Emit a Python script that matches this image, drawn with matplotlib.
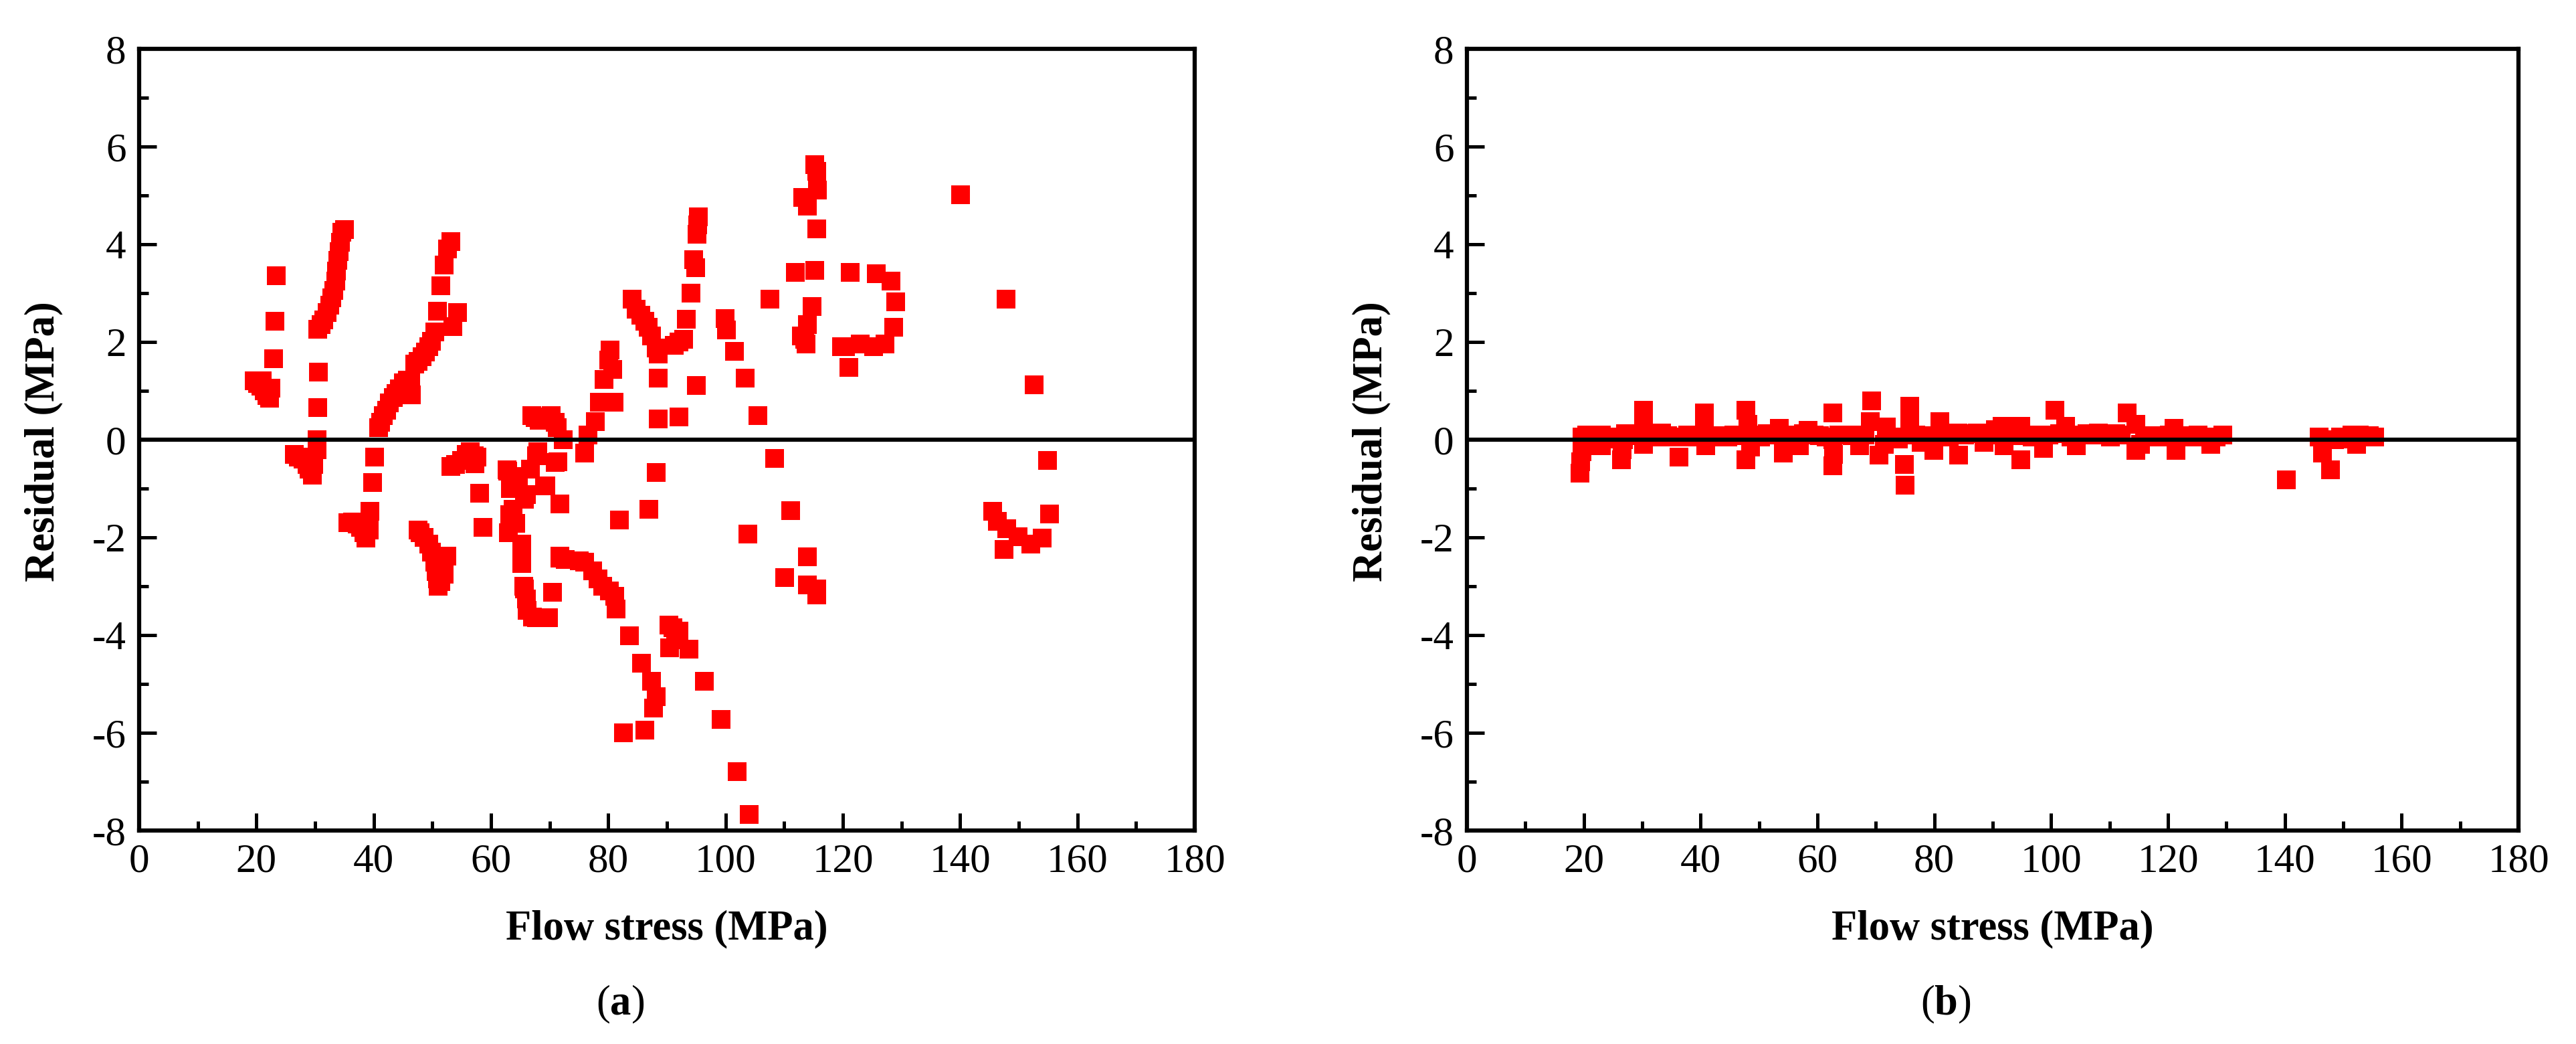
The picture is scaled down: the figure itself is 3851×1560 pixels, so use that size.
import matplotlib
matplotlib.use("Agg")
import matplotlib.pyplot as plt
from matplotlib.ticker import MultipleLocator

plt.rcParams['font.family'] = ['Liberation Serif', 'DejaVu Serif']
plt.rcParams['axes.unicode_minus'] = False
plt.rcParams['mathtext.fontset'] = 'custom'
plt.rcParams['mathtext.rm'] = 'Liberation Serif'
plt.rcParams['mathtext.bf'] = 'Liberation Serif:bold'

# ---------------- data ----------------
xa = [19.6, 20.2, 20.8, 21.3, 21.8, 22.3, 22.5, 21.0,
      23.4, 23.2, 22.9,
      26.5, 27.2, 28.0, 28.6, 29.0, 29.5, 29.8, 30.3,
      30.3, 30.4, 30.6,
      30.5, 31.0, 31.5, 32.0, 32.5, 32.9, 33.2, 33.5, 33.7, 33.9, 34.1, 34.3, 34.6, 35.0,
      40.1, 39.8, 39.3,
      35.6, 36.4, 37.2, 37.7, 38.3, 38.7, 39.2,
      40.8, 41.2, 41.6, 42.2, 42.7, 43.3, 43.8, 44.4, 45.0, 45.7, 46.3, 46.4,
      47.0, 47.6, 48.2, 48.8, 49.4, 49.9,
      50.4, 50.9, 51.4, 52.0, 52.6, 53.2, 53.5, 54.3,
      53.2, 54.0, 55.0, 55.8, 56.5, 57.3, 57.6, 57.2,
      58.1, 58.6,
      47.6, 47.9, 48.6, 49.4, 49.9, 50.4, 50.7, 50.9, 51.0, 51.5, 52.0, 52.5,
      67.0, 67.5, 68.2, 70.3, 70.9, 71.3, 72.3, 71.4, 68.5, 70.1,
      68.0, 71.0, 69.3, 66.7, 62.7, 63.5, 64.7, 65.7, 63.2, 64.2, 63.0, 65.2, 65.3,
      65.2, 65.6, 65.7, 66.1, 66.2, 67.1, 67.8, 68.8, 69.8, 70.5, 71.8, 71.8, 69.1,
      62.8, 63.3, 64.5, 66.1, 63.8, 63.8, 67.8,
      71.7, 72.7, 75.0, 76.0, 77.3, 78.2, 79.0, 80.2, 81.1, 81.3, 83.6, 85.7, 87.4,
      88.2, 87.7, 82.6, 86.2,
      90.3, 91.0, 92.0, 90.5, 91.5, 93.8, 96.4, 99.2, 102.0, 104.0,
      111.1, 103.8, 113.9, 110.1, 113.9, 115.6, 115.5,
      81.9, 86.9, 88.2, 108.4,
      76.0, 76.5, 77.8, 78.5, 79.3, 80.8, 80.1, 80.3, 81.0,
      84.1, 84.8, 85.5, 86.2, 86.8, 87.4, 88.2, 88.5, 88.5, 88.5, 92.0,
      91.3, 92.0, 92.8, 93.3, 94.1, 94.6, 94.9, 95.1, 95.4, 95.3, 95.0,
      99.95, 100.2, 101.5, 103.3, 105.5, 107.6,
      111.9, 115.2, 114.7, 113.96, 112.9, 113.7, 113.5,
      115.2, 115.7, 113.2, 114.0, 115.5, 115.6,
      121.3, 125.7, 128.2, 129.0, 128.7, 127.2, 125.2, 123.0, 120.4, 119.8, 121.0,
      140.1, 147.8, 152.6, 154.9, 155.2,
      145.6, 146.4, 147.9, 149.9, 152.0, 154.0, 147.5]
ya = [1.2, 1.15, 1.1, 1.0, 0.9, 0.85, 1.05, 1.2,
      3.36, 2.42, 1.66,
      -0.3, -0.35, -0.4, -0.5, -0.6, -0.73, -0.5, -0.2,
      0.0, 0.66, 1.38,
      2.26, 2.35, 2.45, 2.6, 2.75, 2.9, 3.06, 3.25, 3.45, 3.67, 3.85, 4.04, 4.25, 4.3,
      -0.35, -0.87, -1.47,
      -1.7, -1.68, -1.72, -1.8, -1.9, -2.02, -1.85,
      0.25, 0.35, 0.49, 0.6, 0.75, 0.86, 0.95, 1.04, 1.16, 1.22, 1.2, 0.92,
      1.55, 1.6, 1.7, 1.8, 1.9, 2.02,
      2.2, 2.63, 3.15, 3.58, 3.9, 4.05, 2.32, 2.6,
      -0.55, -0.5, -0.43, -0.3, -0.24, -0.49, -0.35, -0.33,
      -1.1, -1.8,
      -1.85, -1.9, -2.0, -2.14, -2.3, -2.5, -2.7, -2.85, -3.0, -2.9, -2.75, -2.39,
      0.49, 0.45, 0.4, 0.49, 0.35, 0.24, 0.0, -0.45, 0.45, 0.46,
      -0.24, -0.46, -0.95, -0.6, -0.61, -0.75, -0.98, -1.22, -1.53, -1.71, -1.9, -2.14, -2.17,
      -2.54, -3.0, -3.06, -3.26, -3.49, -3.63, -3.64, -3.64, -3.64, -3.12, -2.39, -1.31, -0.94,
      -0.64, -1.0, -1.0, -1.12, -1.43, -1.68, -0.33,
      -2.42, -2.45, -2.48, -2.5, -2.69, -2.85, -3.0, -3.1, -3.21, -3.47, -4.02, -4.57, -4.94,
      -5.26, -5.49, -6.0, -5.94,
      -3.79, -3.85, -3.92, -4.26, -4.1, -4.29, -4.94, -5.73, -6.8, -7.67,
      -1.45, -1.93, -2.4, -2.82, -2.97, -3.05, -3.18,
      -1.64, -1.43, -0.67, -0.39,
      -0.27, 0.1, 0.37, 0.77, 1.23, 1.44, 1.63, 1.84, 0.77,
      2.88, 2.67, 2.55, 2.42, 2.3, 2.12, 1.87, 1.75, 1.26, 0.43, 0.46,
      1.93, 2.0, 2.05, 2.46, 3.0, 3.68, 3.52, 4.2, 4.56, 4.4, 1.11,
      2.48, 2.24, 1.81, 1.26, 0.5, 2.88,
      3.43, 3.46, 2.73, 2.36, 2.12, 1.96, 2.05,
      5.63, 5.11, 4.96, 4.78, 4.32, 5.5,
      3.43, 3.4, 3.25, 2.82, 2.3, 1.96, 1.9, 1.96, 1.91, 1.9, 1.48,
      5.02, 2.87, 1.12, -0.43, -1.52,
      -1.47, -1.67, -1.82, -1.98, -2.14, -2.02, -2.24]

xb = [19.4, 19.5, 19.7, 19.9, 19.7, 20.5, 21.5, 22.3, 23.0, 23.0, 24.0, 25.0,
      26.4, 26.6, 26.8, 27.1, 28.0, 29.0, 30.2, 30.2, 30.2, 31.2, 32.2, 33.3,
      34.3, 35.3, 36.3, 36.7, 37.8, 38.8, 39.8, 40.7, 40.7, 40.9, 41.8, 42.8,
      43.8, 44.7, 45.7, 46.7, 47.7, 47.7, 48.1, 48.5, 49.2, 50.3, 51.4, 52.4,
      53.5, 54.2, 55.2, 56.2, 56.9, 57.6, 58.4, 59.4, 60.4, 61.5, 62.6, 62.6,
      62.6, 62.8, 63.7, 64.9, 66.0, 67.2, 68.1, 69.1, 69.3, 70.5, 71.8, 71.5,
      72.8, 73.8, 74.9, 75.0, 75.8, 75.8, 76.8, 77.8, 78.9, 79.9, 80.9, 81.5,
      82.5, 83.5, 84.0, 84.2, 85.2, 86.3, 87.4, 88.5, 89.5, 90.5, 91.6, 92.0,
      93.0, 93.9, 94.8, 94.8, 95.8, 96.8, 97.8, 98.7, 99.6, 100.6, 101.5, 102.5,
      103.4, 104.3, 105.2, 106.2, 107.2, 108.1, 109.1, 110.1, 111.1, 112.0, 113.0, 114.5,
      114.5, 115.3, 116.0, 117.0, 118.0, 119.5, 120.2, 121.0, 121.4, 122.3, 123.2, 124.1,
      125.1, 126.1, 127.3, 128.3, 129.4, 140.3, 145.9, 146.4, 147.8, 148.5, 149.5, 150.5,
      151.5, 152.3, 152.7, 153.7, 154.5, 155.4]
yb = [-0.68, -0.45, -0.25, -0.13, 0.05, 0.1, 0.1, 0.08, 0.1, -0.13, 0.05, 0.02,
      -0.41, -0.2, 0.0, 0.12, 0.08, 0.1, 0.6, 0.32, -0.09, 0.08, 0.05, 0.14,
      0.08, 0.05, -0.36, 0.05, 0.1, 0.05, 0.08, 0.55, 0.23, -0.13, 0.05, 0.08,
      0.05, 0.05, 0.1, 0.08, 0.6, -0.41, 0.32, -0.15, 0.1, 0.05, 0.12, 0.1,
      0.23, -0.27, 0.05, 0.1, -0.13, 0.12, 0.19, 0.1, 0.08, 0.05, 0.55, -0.54,
      0.0, -0.3, 0.1, 0.1, 0.08, -0.13, 0.1, 0.37, 0.79, -0.32, 0.26, -0.1,
      0.05, 0.02, -0.5, -0.93, 0.69, 0.32, 0.1, -0.05, 0.08, -0.22, 0.37, 0.1,
      0.05, 0.1, 0.14, -0.32, 0.1, 0.12, 0.14, -0.05, 0.1, 0.2, 0.28, -0.13,
      0.1, 0.08, 0.28, -0.41, 0.1, 0.05, 0.1, -0.18, 0.1, 0.6, 0.12, 0.28,
      0.05, -0.13, 0.1, 0.12, 0.1, 0.14, 0.1, 0.05, 0.12, 0.1, 0.55, 0.32,
      -0.22, -0.1, 0.05, 0.08, 0.05, 0.05, 0.1, 0.23, -0.22, 0.05, 0.08, 0.05,
      0.1, 0.05, -0.09, 0.05, 0.1, -0.82, 0.05, -0.27, -0.61, 0.0, 0.05, 0.02,
      0.1, -0.09, 0.1, 0.05, 0.08, 0.05]

xticks = [0, 20, 40, 60, 80, 100, 120, 140, 160, 180]
yticks = [-8, -6, -4, -2, 0, 2, 4, 6, 8]
xlabel = 'Flow stress (MPa)'
ylabel = 'Residual (MPa)'
captions = ['a', 'b']

# ---------------- figure ----------------
W, H = 3851, 1560
fig = plt.figure(figsize=(W / 100, H / 100), dpi=100)

axes_px = [(208, 1786), (2193, 3765)]
top_px, bot_px = 73, 1241


def style(ax):
    ax.set_xlim(0, 180)
    ax.set_ylim(-8, 8)
    ax.set_xticks(xticks)
    ax.set_yticks(yticks)
    ax.xaxis.set_minor_locator(MultipleLocator(10))
    ax.yaxis.set_minor_locator(MultipleLocator(1))
    for s in ax.spines.values():
        s.set_linewidth(4.5)
    ax.tick_params(which='both', direction='in', top=False, right=False,
                   labelsize=44, width=3.6)
    ax.tick_params(which='major', length=19, pad=14)
    ax.tick_params(which='minor', length=10)
    ax.axhline(0, color='black', lw=4.5, zorder=4)


for i, (xs, ys) in enumerate([(xa, ya), (xb, yb)]):
    l, r = axes_px[i]
    ax = fig.add_axes([l / W, 1 - bot_px / H, (r - l) / W, (bot_px - top_px) / H])
    ax.scatter(xs, ys, s=380, marker='s', color='#ff0000', linewidths=0, zorder=3,
               clip_on=False)
    style(ax)
    cx = (l + r) / 2
    fig.text(cx / W, 1 - 1388 / H, xlabel, ha='center', va='center',
             fontsize=45, fontweight='bold')
    fig.text((l - 143) / W, 1 - 660 / H, ylabel, ha='center', va='center',
             rotation=90, fontsize=45, fontweight='bold')
    fig.text((cx - 70) / W, 1 - 1501 / H, r'($\mathbf{%s}$)' % captions[i],
             ha='center', va='center', fontsize=45)

fig.savefig('out.png', dpi=100)
